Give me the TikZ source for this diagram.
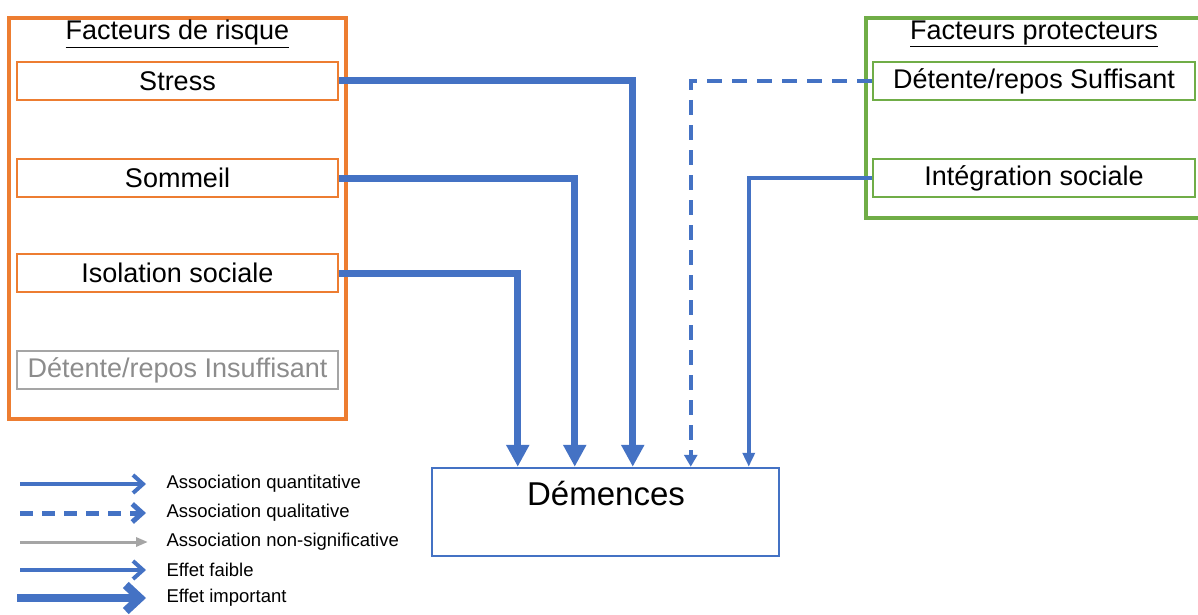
\documentclass[tikz,border=0pt]{standalone}
\usepackage{fontspec}
\setmainfont{Liberation Sans}
\usetikzlibrary{arrows.meta,calc}
\definecolor{riskcolor}{RGB}{237,125,49}
\definecolor{protcolor}{RGB}{112,173,71}
\definecolor{linkcolor}{RGB}{68,114,196}
\definecolor{nscolor}{RGB}{165,165,165}

\begin{document}
\begin{tikzpicture}[
    x=1pt, y=-1pt,
    box/.style={rectangle, draw, line width=2.5pt, minimum width=321pt, minimum height=38pt, inner sep=0pt, font=\fontsize{27}{32}\selectfont},
    riskbox/.style={box, draw=riskcolor},
    protbox/.style={box, draw=protcolor, minimum width=322pt},
    nsbox/.style={box, draw=nscolor, text=nscolor!85!black},
    frame/.style={rectangle, draw, line width=4pt, inner sep=0pt},
    title/.style={font=\fontsize{27}{32}\selectfont},
    legtext/.style={anchor=west, font=\fontsize{18.5}{21}\selectfont},
    strong/.style={-{Triangle[width=22pt,length=22pt]}, line width=7pt, draw=linkcolor},
    quali/.style={-{Triangle[width=13pt,length=12pt]}, line width=4.5pt, draw=linkcolor, dash pattern=on 15pt off 10pt},
    weak/.style={-{Triangle[width=12pt,length=14pt]}, line width=3.5pt, draw=linkcolor},
    legarrow/.style={draw=linkcolor, line width=4pt, -{Straight Barb[width=18pt,length=10pt]}}
]
\useasboundingbox (0,0) rectangle (1198,615);

% Facteurs de risque
\node[frame, draw=riskcolor, minimum width=337pt, minimum height=401pt] (risque) at (177.5,218.5) {};
\node[title] (risquetitle) at (177.5,34) {\underline{Facteurs de risque}};
\node[riskbox] (stress) at (177.5,81) {Stress};
\node[riskbox] (sommeil) at (177.5,178) {Sommeil};
\node[riskbox] (isolation) at (177.5,273) {Isolation sociale};
\node[nsbox] (insuff) at (177.5,370) {Détente/repos Insuffisant};

% Facteurs protecteurs
\node[frame, draw=protcolor, minimum width=336pt, minimum height=200pt] (protecteurs) at (1034,118) {};
\node[title] (prottitle) at (1034,34) {\underline{Facteurs protecteurs}};
\node[protbox] (suff) at (1034,81) {Détente/repos Suffisant};
\node[protbox] (integ) at (1034,178) {Intégration sociale};

% Demences
\node[rectangle, draw=linkcolor, line width=2.5pt, minimum width=347pt, minimum height=88pt] (dem) at (605.5,512) {};
\node[anchor=base, font=\fontsize{33}{38}\selectfont] (demtext) at (606,505) {Démences};

% Associations
\draw[strong] (stress.east) -| ($(dem.north west)+(202,0)$);
\draw[strong] (sommeil.east) -| ($(dem.north west)+(144,0)$);
\draw[strong] (isolation.east) -| ($(dem.north west)+(87,0)$);
\draw[quali] (suff.west) -| ($(dem.north west)+(260,0)$);
\draw[weak] (integ.west) -| ($(dem.north west)+(318,0)$);

% Legende
\coordinate (q1) at (20,484);  \coordinate (q2) at (146,484);
\coordinate (d1) at (20,513);  \coordinate (d2) at (146,513);
\coordinate (n1) at (20,542);  \coordinate (n2) at (148,542);
\coordinate (f1) at (20,570);  \coordinate (f2) at (146,570);
\coordinate (i1) at (17,598);  \coordinate (i2) at (146,598);
\draw[legarrow] (q1) -- (q2);
\draw[legarrow, line width=5pt, dash pattern=on 13pt off 9pt] (d1) -- (d2);
\draw[nscolor, line width=3pt, -{Triangle[width=9pt,length=12pt]}] (n1) -- (n2);
\draw[legarrow] (f1) -- (f2);
\draw[legarrow, line width=8.5pt, -{Straight Barb[width=26pt,length=14pt]}] (i1) -- (i2);
\node[legtext] (lq) at (163,484) {Association quantitative};
\node[legtext] (ld) at (163,513) {Association qualitative};
\node[legtext] (ln) at (163,542) {Association non-significative};
\node[legtext] (lf) at (163,570) {Effet faible};
\node[legtext] (li) at (163,598) {Effet important};

\end{tikzpicture}
\end{document}
